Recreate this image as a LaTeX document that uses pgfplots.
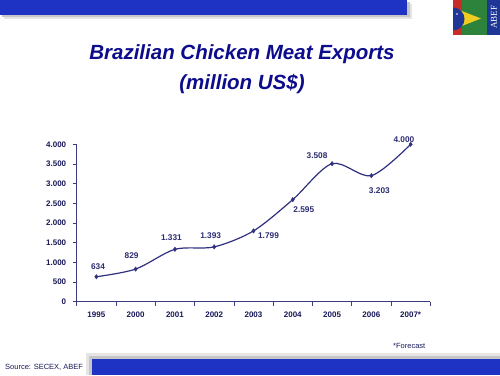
\documentclass[border=0pt]{standalone}
\usepackage{pgfplots}
\pgfplotsset{compat=1.18}
\usepackage{pgfplotstable}
\usepackage{fontspec}
\setmainfont{Liberation Sans}
\newfontfamily\logofont{Liberation Serif}
\definecolor{barblue}{RGB}{30,50,196}
\definecolor{titleblue}{RGB}{12,12,140}
\definecolor{linecol}{RGB}{48,48,128}
\definecolor{labcol}{RGB}{45,45,115}
\definecolor{axcol}{RGB}{60,60,125}
\definecolor{txtcol}{RGB}{25,25,90}
\definecolor{flaggreen}{RGB}{45,130,60}
\definecolor{flagblue}{RGB}{30,55,150}
\definecolor{flagyellow}{RGB}{240,205,30}
\definecolor{flagred}{RGB}{200,45,40}
\pgfplotstableread{
x y lab dx dy
0 634 634 1.7 10
1 829 829 -4 13
2 1331 1.331 -3.5 11.6
3 1393 1.393 -3.5 11
4 1799 1.799 15 -5
5 2595 2.595 11 -10.5
6 3508 3.508 -15 7.6
7 3203 3.203 8 -14.5
8 4000 4.000 -6.7 4.3
}\exports
\begin{document}
\begin{tikzpicture}
\useasboundingbox (0,0) rectangle (500pt,375pt);
\fill[white] (0,0) rectangle (500pt,375pt);
\begin{scope}[x=1pt,y=-1pt,shift={(0pt,375pt)}]
  % top bar with shadow
  \fill[gray!20] (4,4) rectangle (412,19.5);
  \fill[gray!45] (2,2) rectangle (409.5,17.5);
  \fill[barblue] (0,0) rectangle (407,15);
  % logo
  \begin{scope}
    \clip (453,0.5) rectangle (500,35);
    \fill[flaggreen] (453,0) rectangle (500,35);
    \fill[flagred] (453,0) rectangle (462,35);
    \fill[flagyellow] (458,9.5) -- (481,18.5) -- (458,27.5) -- cycle;
    \fill[flagblue] (453,19) circle (11.5);
    \fill[white] (457,14) circle (0.9);
    \fill[flagblue] (487,0) rectangle (500,35);
    \node[white, rotate=90, font=\logofont\fontsize{9}{10}\selectfont, inner sep=0pt] at (494,17.5) {ABEF};
  \end{scope}
  % title
  \node[anchor=base, text=titleblue, font=\bfseries\itshape\fontsize{20.5}{24}\selectfont, inner sep=0pt] at (242,60) {Brazilian Chicken Meat Exports};
  \node[anchor=base, text=titleblue, font=\bfseries\itshape\fontsize{20.5}{24}\selectfont, inner sep=0pt] at (242,90) {(million US\$)};
  % bottom bar with shadow
  \fill[gray!20] (86,353) rectangle (500,375);
  \fill[gray!45] (89,356) rectangle (500,375);
  \fill[barblue] (92,359) rectangle (500,375);
  \node[anchor=base west, text=txtcol, font=\fontsize{7.5}{9}\selectfont, inner sep=0pt] at (5,369) {Source: SECEX, ABEF};
  \node[anchor=base west, text=txtcol, font=\fontsize{7.5}{9}\selectfont, inner sep=0pt] at (393,348) {*Forecast};
\end{scope}
\begin{axis}[
  at={(76.7pt,73.3pt)}, anchor=south west,
  scale only axis, width=353.6pt, height=157.4pt,
  xmin=-0.5, xmax=8.5, ymin=0, ymax=4000,
  axis x line*=bottom, axis y line*=left,
  axis line style={axcol, line width=0.8pt, -},
  xtick={-0.5,0.5,...,8.5}, x tick label as interval,
  xticklabels={1995,2000,2001,2002,2003,2004,2005,2006,2007*},
  ytick={0,500,...,4000},
  tick align=outside, major tick length=4pt,
  tick style={axcol, line width=0.6pt},
  ticklabel style={font=\bfseries\fontsize{8}{9}\selectfont, text=txtcol},
  xticklabel style={yshift=-3pt},
  yticklabel style={xshift=-3pt},
  /pgf/number format/1000 sep={.},
  /pgf/number format/assume math mode=true,
  clip=false,
]
\addplot[linecol, line width=1.2pt, smooth, tension=0.5,
  mark=diamond*, mark size=2.2pt, mark options={fill=linecol, line width=0.4pt},
  point meta=explicit symbolic,
  nodes near coords,
  visualization depends on={\thisrow{dx} \as \dx},
  visualization depends on={\thisrow{dy} \as \dy},
  every node near coord/.append style={anchor=center, xshift=\dx pt, yshift=\dy pt,
    font=\bfseries\fontsize{8.3}{9}\selectfont, text=labcol, inner sep=0pt},
] table[x=x,y=y,meta=lab]{\exports};
\end{axis}
\end{tikzpicture}
\end{document}
